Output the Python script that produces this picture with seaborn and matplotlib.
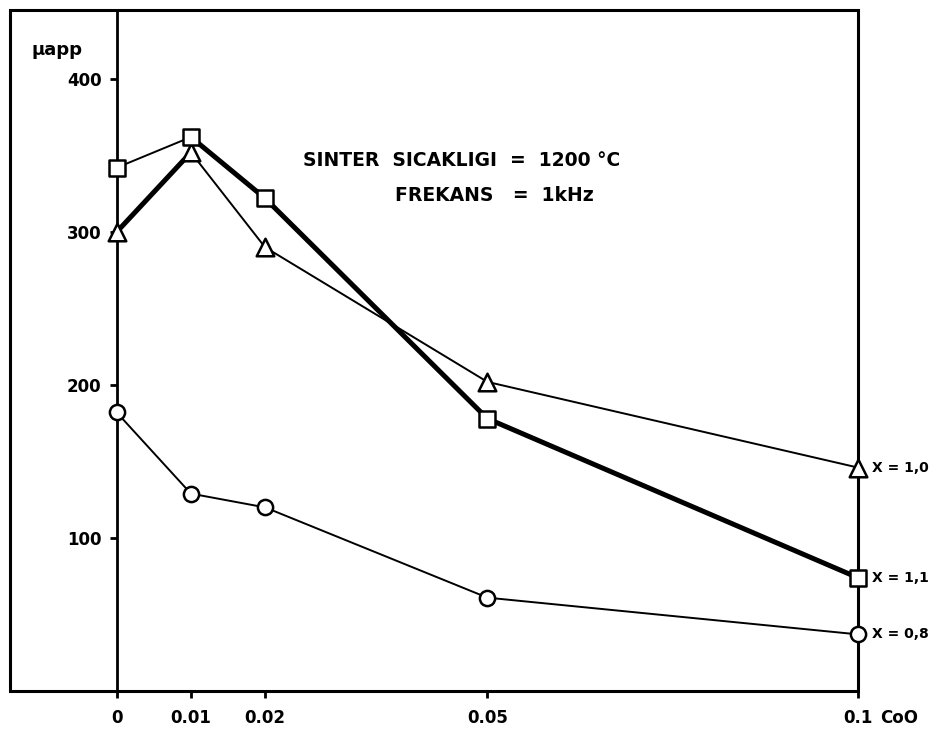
import numpy as np
import pandas as pd
import matplotlib
matplotlib.use("Agg")
import matplotlib.pyplot as plt
from matplotlib.patches import Rectangle
import seaborn as sns

#########################################################################
# CoO katkisi ve gorunur permeabilite (mu_app), sinter 1200 C, 1 kHz
coo = [0.0, 0.01, 0.02, 0.05, 0.1]
mu_x08 = [182, 129, 120, 61, 37]     # daire
mu_x10 = [300, 352, 290, 202, 146]   # ucgen
mu_x11 = [342, 362, 322, 178, 74]    # kare
x_ticks = [0.0, 0.01, 0.02, 0.05, 0.1]
x_ticklabels = ["0", "0.01", "0.02", "0.05", "0.1"]
y_ticks = [100, 200, 300, 400]
series_labels = ["X = 1,0", "X = 1,1", "X = 0,8"]

sns.set_style("white")
plt.rcParams["font.family"] = ["DejaVu Sans"]
plt.rcParams["text.color"] = "black"
plt.rcParams["xtick.color"] = "black"
plt.rcParams["ytick.color"] = "black"

fig = plt.figure(figsize=(9.36, 7.33), dpi=100)
ax = fig.add_axes([0.0107, 0.0573, 0.906, 0.929])

thin = 1.4
thick = 3.6

# ince cizgiler
sns.lineplot(x=coo, y=mu_x08, ax=ax, color="black", lw=thin, zorder=2)
sns.lineplot(x=coo[1:], y=mu_x10[1:], ax=ax, color="black", lw=thin, zorder=2)
sns.lineplot(x=coo[:2], y=mu_x11[:2], ax=ax, color="black", lw=thin, zorder=2)
# kalin cizgiler
sns.lineplot(x=coo[:2], y=mu_x10[:2], ax=ax, color="black", lw=thick, zorder=2)
sns.lineplot(x=coo[1:], y=mu_x11[1:], ax=ax, color="black", lw=thick, zorder=2)

mk = dict(ax=ax, color="white", edgecolor="black", linewidth=1.8, zorder=4, clip_on=False)
sns.scatterplot(x=coo, y=mu_x08, marker="o", s=120, **mk)
sns.scatterplot(x=coo, y=mu_x10, marker="^", s=160, **mk)
sns.scatterplot(x=coo, y=mu_x11, marker="s", s=120, **mk)

ax.set_xlim(-0.0144, 0.1)
ax.set_ylim(0, 445)

# y ekseni x=0 da, dis cerceve ayrica
ax.spines["left"].set_position(("data", 0))
for s in ["left", "top", "right", "bottom"]:
    ax.spines[s].set_linewidth(2)
    ax.spines[s].set_color("black")
ax.spines["left"].set_zorder(3)
ax.add_patch(Rectangle((0, 0), 1, 1, transform=ax.transAxes, fill=False,
                       lw=2.2, edgecolor="black", clip_on=False))

ax.set_xticks(x_ticks)
ax.set_xticklabels(x_ticklabels, fontsize=12, fontweight="bold")
ax.set_yticks(y_ticks)
ax.set_yticklabels([str(v) for v in y_ticks], fontsize=12, fontweight="bold")
ax.tick_params(axis="both", direction="out", length=5, width=2, color="black",
               bottom=True, left=True, pad=6)
ax.tick_params(axis="x", pad=8)
ax.set_xlabel("")
ax.set_ylabel("")

ax.text(-0.0115, 419, "μapp", fontsize=13, fontweight="bold", va="center", ha="left")
ax.text(0.1030, -17.5, "CoO", fontsize=12, fontweight="bold", va="center", ha="left",
        clip_on=False)

ax.text(0.0251, 347, "SINTER  SICAKLIGI  =  1200 °C", fontsize=13.5, fontweight="bold",
        va="center", ha="left")
ax.text(0.0375, 324, "FREKANS   =  1kHz", fontsize=13.5, fontweight="bold",
        va="center", ha="left")

for lab, yv in zip(series_labels, [mu_x10[-1], mu_x11[-1], mu_x08[-1]]):
    ax.text(0.1019, yv, lab, fontsize=10, fontweight="bold", va="center", ha="left",
            clip_on=False)

fig.savefig("out.png", dpi=100)
